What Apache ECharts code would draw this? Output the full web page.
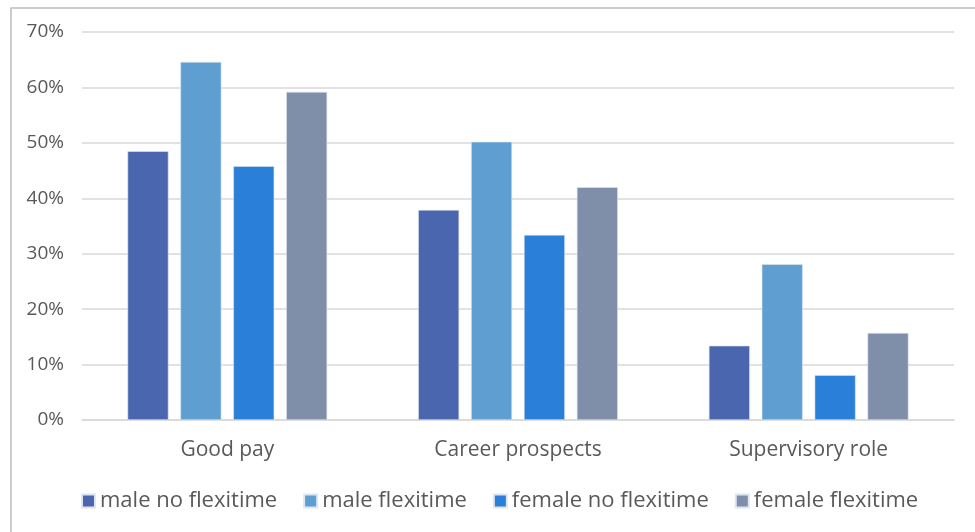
<!DOCTYPE html>
<html>
<head>
<meta charset="utf-8">
<script src="https://cdn.jsdelivr.net/npm/echarts@6/dist/echarts.min.js"></script>
<style>
  html, body { margin: 0; padding: 0; background: #fff; }
  #main { width: 975px; height: 532px; }
</style>
</head>
<body>
<div id="main"></div>
<script>
// categories and series (share of workers, %)
const categories = ['Good pay', 'Career prospects', 'Supervisory role'];
const maleNoFlex = [48.5, 37.9, 13.4];
const maleFlex = [64.6, 50.2, 28.1];
const femaleNoFlex = [45.8, 33.4, 8.1];
const femaleFlex = [59.2, 42.0, 15.7];
const seriesNames = ['male no flexitime', 'male flexitime', 'female no flexitime', 'female flexitime'];
const colors = ['#4a66ae', '#5f9ed1', '#2a7fd8', '#7f8fa9'];

const chart = echarts.init(document.getElementById('main'));
const font = 'Open Sans';

const seriesData = [maleNoFlex, maleFlex, femaleNoFlex, femaleFlex];
const series = seriesData.map((d, i) => ({
  name: seriesNames[i],
  type: 'bar',
  data: d,
  barWidth: 41,
  barGap: '29%',
  itemStyle: { color: colors[i], borderColor: '#dde6f2', borderWidth: 0.6 }
}));

chart.setOption({
  animation: false,
  color: colors,
  graphic: [{
    type: 'rect',
    shape: { x: 11, y: 8, width: 1000, height: 600 },
    style: { fill: 'none', stroke: '#bdbdbd', lineWidth: 1.5 },
    silent: true
  }],
  grid: { left: 82, right: 21, top: 32, bottom: 112, containLabel: false },
  legend: {
    data: seriesNames,
    left: 76,
    top: 485,
    icon: 'rect',
    itemWidth: 13,
    itemHeight: 13,
    itemGap: 26,
    textStyle: { fontFamily: font, fontSize: 22, color: '#595959' }
  },
  xAxis: {
    type: 'category',
    data: categories,
    axisLine: { lineStyle: { color: '#d9d9d9', width: 1.5 } },
    axisTick: { show: false },
    axisLabel: { fontFamily: font, fontSize: 21, color: '#595959', margin: 20 }
  },
  yAxis: {
    type: 'value',
    min: 0,
    max: 70,
    interval: 10,
    axisLine: { show: false },
    axisTick: { show: false },
    axisLabel: { formatter: '{value}%', fontFamily: font, fontSize: 19, color: '#595959', margin: 18 },
    splitLine: { lineStyle: { color: '#d9d9d9', width: 1.5 } }
  },
  series: series
});
</script>
</body>
</html>
